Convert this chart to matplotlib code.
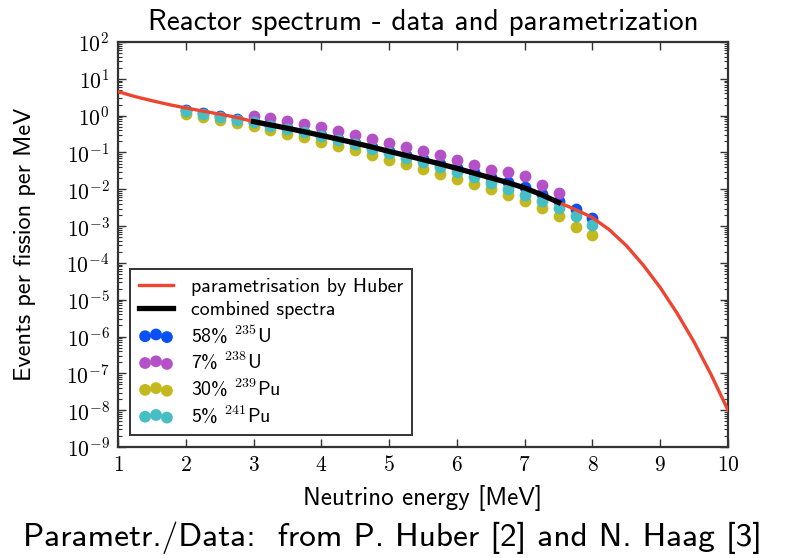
import numpy as np
import matplotlib
matplotlib.use('Agg')
import matplotlib.pyplot as plt
from matplotlib.ticker import LogLocator, FuncFormatter, NullFormatter, FixedLocator

plt.rcParams['mathtext.fontset'] = 'cm'
plt.rcParams['axes.unicode_minus'] = False

# Energy grid of the measured points [MeV]
energy = [2.0, 2.25, 2.5, 2.75, 3.0, 3.25, 3.5, 3.75, 4.0, 4.25, 4.5, 4.75, 5.0,
          5.25, 5.5, 5.75, 6.0, 6.25, 6.5, 6.75, 7.0, 7.25, 7.5, 7.75, 8.0]
energy_u238 = [3.0, 3.25, 3.5, 3.75, 4.0, 4.25, 4.5, 4.75, 5.0, 5.25, 5.5, 5.75,
               6.0, 6.25, 6.5, 6.75, 7.0, 7.25, 7.5]

# Events per fission per MeV
u235 = [1.40, 1.18, 0.98, 0.82, 0.68, 0.555, 0.455, 0.368, 0.294, 0.233, 0.182,
        0.142, 0.110, 0.0847, 0.0652, 0.0499, 0.0381, 0.0286, 0.0214, 0.0156,
        0.0112, 0.00753, 0.00476, 0.00295, 0.00162]
u238 = [1.0, 0.88, 0.72, 0.59, 0.49, 0.38, 0.30, 0.228, 0.185, 0.144, 0.109,
        0.0834, 0.0621, 0.0446, 0.0331, 0.0292, 0.0228, 0.0127, 0.00804]
pu239 = [1.12, 0.93, 0.76, 0.625, 0.51, 0.41, 0.326, 0.256, 0.198, 0.151, 0.114,
         0.0857, 0.0637, 0.0476, 0.0354, 0.0262, 0.0194, 0.0141, 0.0102, 0.00716,
         0.00494, 0.00314, 0.00185, 0.00095, 0.00056]
pu241 = [1.30, 1.10, 0.93, 0.78, 0.655, 0.535, 0.435, 0.35, 0.277, 0.216, 0.167,
         0.128, 0.0971, 0.0723, 0.0536, 0.0396, 0.0292, 0.0210, 0.0150, 0.0104,
         0.00713, 0.00482, 0.00305, 0.00185, 0.00108]

# combined spectrum, 3 - 7.5 MeV
combined = [0.69, 0.56, 0.455, 0.365, 0.29, 0.23, 0.18, 0.14, 0.107, 0.083, 0.064,
            0.049, 0.037, 0.0275, 0.0205, 0.0152, 0.0109, 0.0071, 0.0044]

# Huber parametrisation, 1 - 10 MeV
energy_fit = [1.0, 1.25, 1.5, 1.75, 2.0, 2.25, 2.5, 2.75, 3.0, 3.25, 3.5, 3.75, 4.0,
              4.25, 4.5, 4.75, 5.0, 5.25, 5.5, 5.75, 6.0, 6.25, 6.5, 6.75, 7.0,
              7.25, 7.5, 7.75, 8.0, 8.25, 8.5, 8.75, 9.0, 9.25, 9.5, 9.75, 10.0]
huber = [4.5, 3.3, 2.55, 2.0, 1.62, 1.33, 1.1, 0.9, 0.69, 0.56, 0.455, 0.365, 0.29,
         0.23, 0.18, 0.14, 0.107, 0.083, 0.064, 0.049, 0.037, 0.0275, 0.0205,
         0.0152, 0.0109, 0.0071, 0.0044, 2.82e-3, 1.70e-3, 7.94e-4, 2.95e-4, 8.7e-5,
         2.14e-5, 4.27e-6, 7.08e-7, 9.3e-8, 1.0e-8]

fig = plt.figure(figsize=(7.85, 5.58), dpi=100)
ax = fig.add_axes([0.1503, 0.1989, 0.7771, 0.7258])

ms = 72
ax.scatter(energy, u235, s=ms, color='#0a50f5', lw=0, label=r'58% $^{\mathsf{235}}$U', zorder=2)
ax.scatter(energy_u238, u238, s=ms, color='#b450c8', lw=0, label=r'7% $^{\mathsf{238}}$U', zorder=2)
ax.scatter(energy, pu239, s=ms, color='#c3b91e', lw=0, label=r'30% $^{\mathsf{239}}$Pu', zorder=2)
ax.scatter(energy, pu241, s=ms, color='#46bec3', lw=0, label=r'5% $^{\mathsf{241}}$Pu', zorder=2)
ax.plot(energy_fit, huber, color='#ee4530', lw=2.4, label='parametrisation by Huber', zorder=3)
ax.plot(energy_u238, combined, color='black', lw=3.8, label='combined spectra', zorder=4)

ax.set_yscale('log')
ax.set_xlim(1, 10)
ax.set_ylim(1e-9, 1e2)

ax.xaxis.set_major_locator(FixedLocator(range(1, 11)))
ax.xaxis.set_major_formatter(FuncFormatter(lambda v, pos: r'$\mathrm{%d}$' % v))
ax.yaxis.set_major_locator(LogLocator(base=10, numticks=20))
ax.yaxis.set_minor_locator(LogLocator(base=10, subs=np.arange(2, 10), numticks=20))
ax.yaxis.set_minor_formatter(NullFormatter())
ax.yaxis.set_major_formatter(FuncFormatter(
    lambda v, pos: r'$\mathrm{10^{%d}}$' % int(round(np.log10(v)))))

ax.tick_params(which='both', direction='in', top=True, right=True, color='#333333')
ax.tick_params(which='major', length=6, width=1, labelsize=15.5, pad=6)
ax.tick_params(which='minor', length=3, width=0.8)
for sp in ax.spines.values():
    sp.set_linewidth(1.6)
    sp.set_color('#333333')

ax.set_title('Reactor spectrum - data and parametrization', family='cmss10',
             fontsize=21, pad=9)
ax.set_xlabel('Neutrino energy [MeV]', family='cmss10', fontsize=18)
ax.set_ylabel('Events per fission per MeV', family='cmss10', fontsize=17.5)
ax.xaxis.set_label_coords(0.5, -0.095)
ax.yaxis.set_label_coords(-0.134, 0.5)

handles, labels = ax.get_legend_handles_labels()
order = [4, 5, 0, 1, 2, 3]
leg = ax.legend([handles[i] for i in order], [labels[i] for i in order],
                loc='lower left', bbox_to_anchor=(0.02, 0.03), borderaxespad=0,
                scatterpoints=3, fancybox=False, prop={'family': 'cmss10', 'size': 14.3},
                handlelength=1.7, handletextpad=0.9, labelspacing=0.25,
                borderpad=0.45, framealpha=1)
leg.get_frame().set_edgecolor('#333333')
leg.get_frame().set_linewidth(1.4)

fig.text(0.5, 0.036, 'Parametr./Data:  from P. Huber [2] and N. Haag [3]',
         family='cmss10', fontsize=24, ha='center', va='center')

fig.savefig('out.png', dpi=100)
